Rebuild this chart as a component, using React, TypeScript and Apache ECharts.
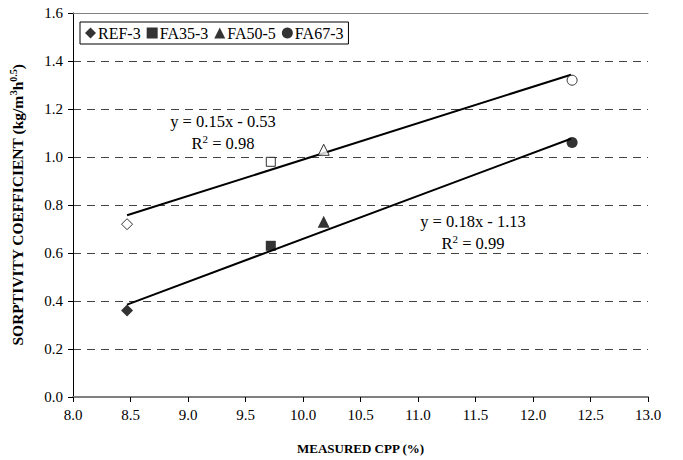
import React, { useEffect, useRef } from "react";
import * as echarts from "echarts";

const seriesNames = ["REF-3", "FA35-3", "FA50-5", "FA67-3"];
const symbols = ["diamond", "rect", "triangle", "circle"];
const cppValues = [8.47, 9.72, 10.18, 12.34];
const filledValues = [0.36, 0.63, 0.73, 1.06];
const openValues = [0.72, 0.98, 1.03, 1.32];
const upperTrendX = [8.47, 12.33];
const upperTrendY = [0.757, 1.343];
const lowerTrendX = [8.47, 12.33];
const lowerTrendY = [0.385, 1.076];
const upperEq = ["y = 0.15x - 0.53", "0.98"];
const lowerEq = ["y = 0.18x - 1.13", "0.99"];

const FONT = "Liberation Serif";

export default function App() {
  const ref = useRef<HTMLDivElement>(null);
  useEffect(() => {
    document.body.style.margin = "0";
    if (!ref.current) return;
    const chart = echarts.init(ref.current, null, { renderer: "svg" });
    const symSize = [12, 10, 12, 11];
    const series: any[] = [];
    seriesNames.forEach((name, i) => {
      series.push({
        name,
        type: "scatter",
        symbol: symbols[i],
        symbolSize: symSize[i],
        itemStyle: { color: "#000" },
        data: [[cppValues[i], filledValues[i]]],
        z: 5,
      });
      series.push({
        name: name + " open",
        type: "scatter",
        symbol: symbols[i],
        symbolSize: symSize[i] - 1,
        itemStyle: { color: "#fff", borderColor: "#000", borderWidth: 1 },
        data: [[cppValues[i], openValues[i]]],
        z: 5,
      });
    });
    series.push({
      type: "line",
      showSymbol: false,
      symbol: "none",
      lineStyle: { color: "#000", width: 2 },
      data: upperTrendX.map((x, i) => [x, upperTrendY[i]]),
      z: 4,
    });
    series.push({
      type: "line",
      showSymbol: false,
      symbol: "none",
      lineStyle: { color: "#000", width: 2 },
      data: lowerTrendX.map((x, i) => [x, lowerTrendY[i]]),
      z: 4,
    });

    const eqText = (x: number, y: number, eq: string[]) => [
      {
        type: "text",
        x,
        y,
        style: {
          text: eq[0],
          fontFamily: FONT,
          fontSize: 16.5,
          fill: "#000",
          align: "center",
          verticalAlign: "middle",
        },
      },
      {
        type: "text",
        x,
        y: y + 22,
        style: {
          text: "{n|R}{s|2}{n| = " + eq[1] + "}",
          rich: {
            n: { fontFamily: FONT, fontSize: 16.5, fill: "#000" },
            s: { fontFamily: FONT, fontSize: 11, fill: "#000", padding: [0, 0, 8, 0] },
          },
          align: "center",
          verticalAlign: "middle",
        },
      },
    ];

    chart.setOption({
      animation: false,
      backgroundColor: "#fff",
      textStyle: { fontFamily: FONT },
      grid: { left: 69, right: 35, top: 13, bottom: 62, containLabel: false },
      legend: {
        data: seriesNames.map((n, i) => ({ name: n, icon: symbols[i] })),
        left: 80,
        top: 22,
        orient: "horizontal",
        borderColor: "#000",
        borderWidth: 1,
        borderRadius: 0,
        padding: [3, 5, 3, 5],
        itemWidth: 11,
        itemHeight: 11,
        itemGap: 6,
        backgroundColor: "#fff",
        textStyle: { fontFamily: FONT, fontSize: 16, color: "#000", padding: [0, 0, 0, -3] },
        selectedMode: false,
      },
      xAxis: [
        {
          type: "value",
          min: 8,
          max: 13,
          interval: 0.5,
          name: "MEASURED CPP (%)",
          nameLocation: "middle",
          nameGap: 45,
          nameTextStyle: { fontFamily: FONT, fontSize: 13, fontWeight: "bold", color: "#000" },
          axisLine: { show: true, lineStyle: { color: "#808080", width: 2 } },
          axisTick: { show: true, length: 5, lineStyle: { color: "#000" } },
          axisLabel: {
            fontFamily: FONT,
            fontSize: 15,
            color: "#000",
            margin: 10,
            formatter: (v: number) => v.toFixed(1),
          },
          splitLine: { show: false },
        },
        {
          type: "value",
          position: "top",
          min: 8,
          max: 13,
          axisLine: { show: true, lineStyle: { color: "#808080", width: 1 } },
          axisTick: { show: false },
          axisLabel: { show: false },
          splitLine: { show: false },
        },
      ],
      yAxis: {
        type: "value",
        min: 0,
        max: 1.6,
        interval: 0.2,
        name: "SORPTIVITY COEFFICIENT (kg/m{s|3}h{s|0.5})",
        nameLocation: "middle",
        nameGap: 47,
        nameTextStyle: {
          fontFamily: FONT,
          fontSize: 15.5,
          fontWeight: "bold",
          color: "#000",
          rich: {
            s: { fontFamily: FONT, fontSize: 10, fontWeight: "bold", color: "#000", padding: [0, 0, 8, 0] },
          },
        },
        axisLine: { show: true, lineStyle: { color: "#000", width: 1 } },
        axisTick: { show: true, length: 5, lineStyle: { color: "#000" } },
        axisLabel: {
          fontFamily: FONT,
          fontSize: 15,
          color: "#000",
          margin: 10,
          formatter: (v: number) => v.toFixed(1),
        },
        splitLine: { show: true, lineStyle: { color: "#444", type: [8, 6], width: 1 } },
      },
      graphic: [...eqText(223, 121, upperEq), ...eqText(473, 221, lowerEq)],
      series,
    });
    return () => chart.dispose();
  }, []);
  return <div ref={ref} style={{ width: 683, height: 460 }} />;
}
